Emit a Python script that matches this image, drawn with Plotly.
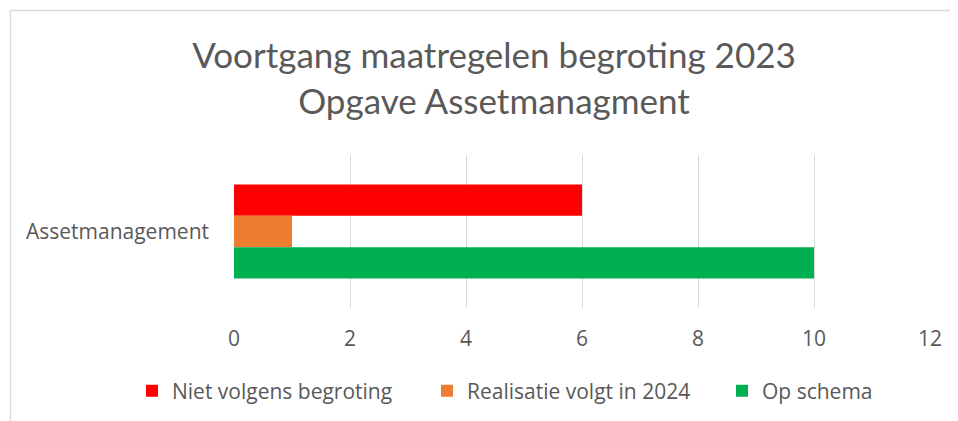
import plotly.graph_objects as go

categories = ["Assetmanagement"]
series_names = ["Niet volgens begroting", "Realisatie volgt in 2024", "Op schema"]
series_values = [[6], [1], [10]]
series_colors = ["#FF0000", "#ED7D31", "#00B050"]
x_ticks = [0, 2, 4, 6, 8, 10, 12]
title_lines = ["Voortgang maatregelen begroting 2023", "Opgave Assetmanagment"]

# The page body has an 8px default margin: work in target-pixel coordinates
OFF = 8
W, H = 958 - OFF, 421 - OFF
ML, MR, MT, MB = 234 - OFF, 28, 155 - OFF, 113
PW, PH = W - ML - MR, H - MT - MB

def px_x(p):
    return (p - OFF - ML) / PW

def px_y(p):
    return (H - MB - (p - OFF)) / PH

fig = go.Figure()
for name, vals, col in zip(series_names, series_values, series_colors):
    fig.add_trace(go.Bar(
        y=categories, x=vals, name=name, orientation="h",
        marker=dict(color=col, line=dict(width=0)),
    ))

fig.update_layout(
    width=W, height=H,
    margin=dict(l=ML, r=MR, t=MT, b=MB, pad=0, autoexpand=False),
    paper_bgcolor="white", plot_bgcolor="white",
    barmode="group", bargap=0.385, bargroupgap=0,
    font=dict(family="Open Sans", color="#595959"),
    title=dict(
        text="<br>".join(title_lines),
        x=(494 - OFF) / W, xref="container", xanchor="center",
        y=1 - (68 - OFF) / H, yref="container", yanchor="middle",
        font=dict(family="Lato", size=35, color="#595959"),
    ),
    xaxis=dict(
        range=[0, 12], tickvals=x_ticks, ticktext=[str(t) for t in x_ticks],
        showgrid=True, gridcolor="#D9D9D9", gridwidth=1,
        zeroline=False, showline=False, ticks="",
        tickfont=dict(family="Open Sans", size=21, color="#595959"),
        ticklabelstandoff=16,
    ),
    yaxis=dict(
        autorange="reversed", showgrid=False, zeroline=False, showline=False,
        ticks="", tickfont=dict(family="Open Sans", size=21, color="#595959"),
        ticklabelstandoff=24,
    ),
    legend=dict(
        orientation="h", x=px_x(132), xanchor="left",
        y=px_y(391), yanchor="middle",
        font=dict(family="Open Sans", size=21, color="#595959"),
        traceorder="normal",
        entrywidth=250, entrywidthmode="pixels",
    ),
    shapes=[
        dict(type="line", xref="paper", yref="paper",
             x0=px_x(10.5), x1=px_x(958), y0=px_y(10.5), y1=px_y(10.5),
             line=dict(color="#D9D9D9", width=1.5)),
        dict(type="line", xref="paper", yref="paper",
             x0=px_x(10.5), x1=px_x(10.5), y0=px_y(10.5), y1=px_y(421),
             line=dict(color="#D9D9D9", width=1.5)),
    ],
)

fig.write_html("out.html")
